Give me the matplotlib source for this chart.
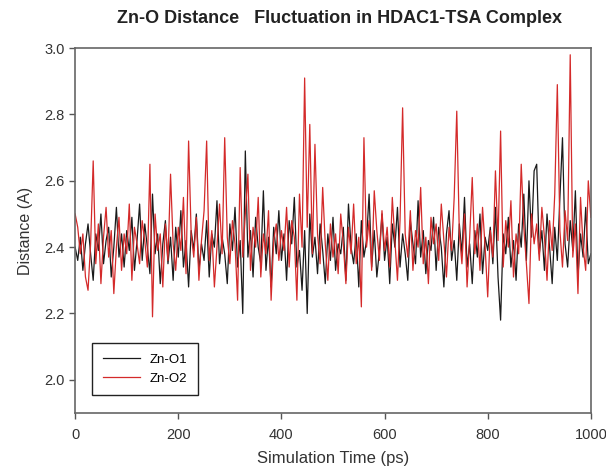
import numpy as np
import matplotlib
matplotlib.use("Agg")
import matplotlib.pyplot as plt

plt.rcParams["font.family"] = ["Liberation Sans", "DejaVu Sans"]

# Simulation time (ps), sampled every 5 ps
time_ps = np.arange(0, 1005, 5)

# Zn-O1 distance (A)
zn_o1 = [
    2.40, 2.36, 2.43, 2.33, 2.41, 2.47, 2.38, 2.30, 2.44, 2.39, 2.50, 2.35, 2.42, 2.46, 2.31, 2.40, 2.52, 2.37, 2.44, 2.34,
    2.45, 2.39, 2.49, 2.33, 2.42, 2.53, 2.36, 2.47, 2.40, 2.32, 2.56, 2.38, 2.44, 2.29, 2.41, 2.48, 2.35, 2.43, 2.30, 2.46,
    2.37, 2.51, 2.34, 2.42, 2.28, 2.45, 2.39, 2.50, 2.33, 2.41, 2.36, 2.48, 2.31, 2.44, 2.40, 2.54, 2.35, 2.43, 2.38, 2.29,
    2.47, 2.39, 2.52, 2.34, 2.42, 2.20, 2.69, 2.37, 2.45, 2.31, 2.49, 2.40, 2.35, 2.57, 2.33, 2.43, 2.28, 2.46, 2.38, 2.51,
    2.36, 2.44, 2.30, 2.48, 2.41, 2.55, 2.34, 2.39, 2.27, 2.45, 2.20, 2.50, 2.37, 2.43, 2.32, 2.47, 2.39, 2.29, 2.44, 2.36,
    2.49, 2.33, 2.41, 2.38, 2.46, 2.30, 2.53, 2.40, 2.35, 2.44, 2.28, 2.48, 2.37, 2.42, 2.56, 2.34, 2.45, 2.31, 2.39, 2.50,
    2.36, 2.43, 2.29, 2.47, 2.40, 2.52, 2.34, 2.44, 2.38, 2.30, 2.48, 2.41, 2.35, 2.54, 2.37, 2.45, 2.32, 2.42, 2.39, 2.49,
    2.33, 2.46, 2.40, 2.28, 2.44, 2.51, 2.36, 2.42, 2.30, 2.47, 2.38, 2.55, 2.34, 2.41, 2.29, 2.45, 2.37, 2.50, 2.32, 2.43,
    2.39, 2.46, 2.35, 2.52, 2.31, 2.18, 2.44, 2.38, 2.49, 2.34, 2.42, 2.30, 2.47, 2.40, 2.56, 2.36, 2.60, 2.43, 2.63, 2.65,
    2.38, 2.45, 2.33, 2.50, 2.40, 2.29, 2.46, 2.36, 2.55, 2.73, 2.41, 2.34, 2.48, 2.39, 2.57, 2.31, 2.44, 2.37, 2.52, 2.35,
    2.38,
]

# Zn-O2 distance (A)
zn_o2 = [
    2.50, 2.46, 2.38, 2.44, 2.31, 2.27, 2.41, 2.66, 2.35, 2.47, 2.29, 2.43, 2.52, 2.37, 2.45, 2.26, 2.40, 2.49, 2.33, 2.44,
    2.38, 2.53, 2.30, 2.46, 2.41, 2.35, 2.48, 2.42, 2.34, 2.65, 2.19, 2.50, 2.39, 2.44, 2.28, 2.47, 2.36, 2.62, 2.41, 2.33,
    2.46, 2.39, 2.55, 2.32, 2.72, 2.44, 2.37, 2.49, 2.30, 2.42, 2.51, 2.72, 2.36, 2.45, 2.28, 2.40, 2.53, 2.38, 2.73, 2.43,
    2.35, 2.48, 2.41, 2.24, 2.64, 2.37, 2.50, 2.62, 2.33, 2.46, 2.40, 2.55, 2.31, 2.44, 2.38, 2.51, 2.24, 2.42, 2.47, 2.36,
    2.45, 2.39, 2.52, 2.34, 2.48, 2.43, 2.24, 2.56, 2.40, 2.91, 2.46, 2.77, 2.38, 2.71, 2.44, 2.35, 2.58, 2.41, 2.30, 2.47,
    2.37, 2.44, 2.32, 2.50, 2.41, 2.29, 2.46, 2.38, 2.53, 2.35, 2.43, 2.22, 2.73, 2.40, 2.48, 2.33, 2.57, 2.45, 2.36, 2.51,
    2.39, 2.46, 2.34, 2.55, 2.42, 2.30, 2.48, 2.82, 2.44, 2.37, 2.51, 2.33, 2.45, 2.40, 2.58, 2.35, 2.43, 2.29, 2.49, 2.41,
    2.47, 2.36, 2.53, 2.42, 2.31, 2.46, 2.39, 2.55, 2.81, 2.44, 2.35, 2.50, 2.28, 2.43, 2.61, 2.38, 2.47, 2.33, 2.52, 2.40,
    2.25, 2.45, 2.37, 2.63, 2.42, 2.75, 2.34, 2.48, 2.40, 2.54, 2.31, 2.44, 2.38, 2.65, 2.46, 2.35, 2.23, 2.50, 2.41, 2.47,
    2.36, 2.52, 2.43, 2.30, 2.48, 2.39, 2.56, 2.89, 2.45, 2.34, 2.51, 2.42, 2.98, 2.37, 2.47, 2.26, 2.55, 2.40, 2.33, 2.60,
    2.49,
]

x_ticks = [0, 200, 400, 600, 800, 1000]
y_ticks = [2.0, 2.2, 2.4, 2.6, 2.8, 3.0]

fig = plt.figure(figsize=(6.06, 4.72), dpi=100)
ax = fig.add_axes([0.124, 0.125, 0.851, 0.773])

ax.plot(time_ps, zn_o1, color="#1a1a1a", linewidth=0.9, label="Zn-O1")
ax.plot(time_ps, zn_o2, color="#d42a2a", linewidth=0.9, label="Zn-O2")

ax.set_xlim(0, 1000)
ax.set_ylim(1.9, 3.0)
ax.set_xticks(x_ticks)
ax.set_yticks(y_ticks)
ax.set_yticklabels(["{:.1f}".format(v) for v in y_ticks])
ax.tick_params(direction="out", length=4, width=1, colors="#555555",
               labelcolor="#333333", labelsize=10.5)
ax.tick_params(axis="x", pad=7)

for side in ["left", "bottom", "top", "right"]:
    ax.spines[side].set_color("#666666")
    ax.spines[side].set_linewidth(1.2)

ax.set_xlabel("Simulation Time (ps)", fontsize=12, color="#333333", labelpad=6)
ax.set_ylabel("Distance (A)", fontsize=11.5, color="#333333", labelpad=8)
fig.suptitle("Zn-O Distance   Fluctuation in HDAC1-TSA Complex",
             x=0.56, y=0.978, fontsize=13, fontweight="bold", color="#222222")

leg = ax.legend(loc="lower left", bbox_to_anchor=(0.02, 0.03), fontsize=9.5,
                fancybox=False, framealpha=1, edgecolor="#222222",
                handlelength=2.8, borderpad=0.8)
leg.get_frame().set_linewidth(1.0)

plt.savefig("out.png", dpi=100)
plt.close()
